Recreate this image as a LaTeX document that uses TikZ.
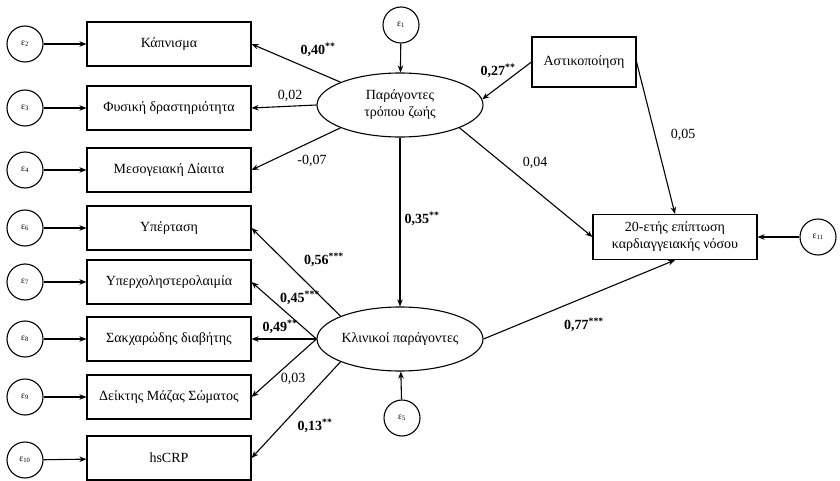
\documentclass[tikz,border=0pt]{standalone}
\usepackage{fontspec}
\setmainfont{Liberation Serif}
\usetikzlibrary{shapes.geometric,arrows.meta}
\begin{document}
\begin{tikzpicture}[x=1pt,y=-1pt,
  every node/.style={font=\fontsize{14}{17}\selectfont},
  err/.style={circle,draw,line width=1.1pt,minimum size=36pt,inner sep=0pt,font=\fontsize{9.5}{10}\selectfont},
  var/.style={rectangle,draw,line width=1.1pt,minimum width=164pt,minimum height=44pt,inner sep=2pt},
  lat/.style={ellipse,draw,line width=1.1pt,minimum width=166pt,minimum height=64pt,inner sep=0pt,align=center},
  arr/.style={line width=1.1pt,-{Stealth[length=7pt,width=5.5pt]}},
  lbl/.style={inner sep=1pt},
  sig/.style={inner sep=1pt,font=\fontsize{14}{17}\selectfont\bfseries}]
\useasboundingbox (0,0) rectangle (840,481);

% error terms, left column
\node[err] (eps2) at (25,44) {ε\textsubscript{2}};
\node[err] (eps3) at (25,108) {ε\textsubscript{3}};
\node[err] (eps4) at (25,170) {ε\textsubscript{4}};
\node[err] (eps6) at (25,228) {ε\textsubscript{6}};
\node[err] (eps7) at (25,282) {ε\textsubscript{7}};
\node[err] (eps8) at (25,339) {ε\textsubscript{8}};
\node[err] (eps9) at (25,397) {ε\textsubscript{9}};
\node[err] (eps10) at (25,460) {ε\textsubscript{10}};

% observed variables, left column
\node[var] (smok) at (169,44) {Κάπνισμα};
\node[var] (phys) at (169,108) {Φυσική δραστηριότητα};
\node[var] (medi) at (169,170) {Μεσογειακή Δίαιτα};
\node[var] (hyp) at (169,228) {Υπέρταση};
\node[var] (chol) at (169,282) {Υπερχοληστερολαιμία};
\node[var] (diab) at (169,339) {Σακχαρώδης διαβήτης};
\node[var] (bmi) at (169,397) {Δείκτης Μάζας Σώματος};
\node[var] (crp) at (169,458) {hsCRP};

% latent variables
\node[lat] (life) at (400,105) {Παράγοντες\\τρόπου ζωής};
\node[lat] (clin) at (400,339) {Κλινικοί παράγοντες};
\node[err] (eps1) at (401,25) {ε\textsubscript{1}};
\node[err] (eps5) at (402,418) {ε\textsubscript{5}};

% right side
\node[var,minimum width=104pt,minimum height=50pt] (urb) at (584,62) {Αστικοποίηση};
\node[var,minimum width=164pt,minimum height=45pt,align=center,font=\fontsize{14}{17}\selectfont] (cvd) at (675,237) {20-ετής επίπτωση\\καρδιαγγειακής νόσου};
\node[err] (eps11) at (818,237) {ε\textsubscript{11}};

% error arrows
\foreach \e/\v in {eps2/smok,eps3/phys,eps4/medi,eps6/hyp,eps7/chol,eps8/diab,eps9/bmi,eps10/crp}
  \draw[arr] (\e) -- (\v);
\draw[arr] (eps1) -- (life);
\draw[arr] (eps5) -- (clin);
\draw[arr] (eps11) -- (cvd);

% structural paths
\draw[arr] (life.159) -- (smok.east);
\draw[arr] (life.west) -- (phys.east);
\draw[arr] (life.201) -- (medi.east);
\draw[arr] (urb.west) -- (life.4);
\draw[arr] (life.339) -- (cvd.west);
\draw[arr] (urb.east) -- (cvd.north);
\draw[arr] (life.south) -- (clin.north);
\draw[arr] (clin.159) -- (hyp.east);
\draw[arr] (clin.west) -- (chol.east);
\draw[arr] (clin.west) -- (diab.east);
\draw[arr] (clin.west) -- (bmi.east);
\draw[arr] (clin.201) -- (crp.east);
\draw[arr] (clin.east) -- (cvd.south);

% coefficients
\node[sig] (c1) at (318,50) {0,40\textsuperscript{**}};
\node[lbl] (c2) at (290,96) {0,02};
\node[lbl] (c3) at (312,161) {-0,07};
\node[sig] (c4) at (498,71) {0,27\textsuperscript{**}};
\node[lbl] (c5) at (535,163) {0,04};
\node[lbl] (c6) at (683,135) {0,05};
\node[sig] (c7) at (422,219) {0,35\textsuperscript{**}};
\node[sig] (c8) at (324,260) {0,56\textsuperscript{***}};
\node[sig] (c9) at (300,298) {0,45\textsuperscript{***}};
\node[sig] (c10) at (280,327) {0,49\textsuperscript{**}};
\node[lbl] (c11) at (293,379) {0,03};
\node[sig] (c12) at (315,426) {0,13\textsuperscript{**}};
\node[sig] (c13) at (584,325) {0,77\textsuperscript{***}};
\end{tikzpicture}
\end{document}
